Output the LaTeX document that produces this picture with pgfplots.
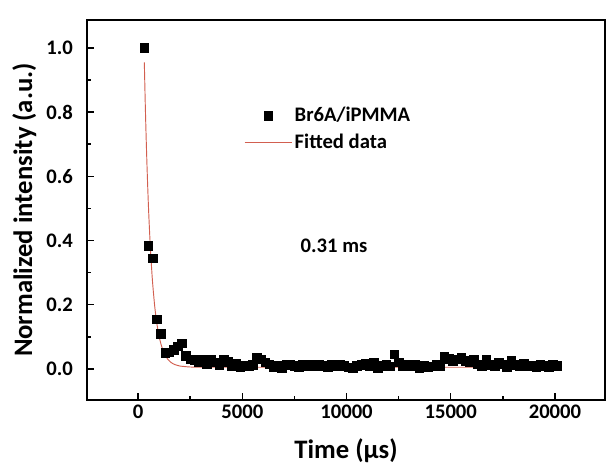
\documentclass[border=0pt]{standalone}
\usepackage{fontspec}
\setmainfont{Carlito}
\usepackage{pgfplots}
\pgfplotsset{compat=1.18}
\definecolor{fitred}{RGB}{210,95,80}
\pgfplotsset{
  markleg/.style={legend image code/.code={\draw[##1] plot coordinates {(0.62cm,0cm)};}},
  lineleg/.style={legend image code/.code={\draw[##1] (0cm,0cm) -- (1.24cm,0cm);}},
}
\begin{document}
\begin{tikzpicture}
\begin{axis}[
  at={(0,0)}, anchor=south west,
  scale only axis, width=388.5pt, height=285pt,
  xmin=-2450, xmax=22400, ymin=-0.097, ymax=1.087,
  axis line style={line width=1.3pt},
  every tick/.style={black, line width=1.1pt},
  tick align=inside,
  xtick pos=bottom, ytick pos=left,
  major tick length=5pt, minor tick length=3pt,
  xtick={0,5000,10000,15000,20000},
  ytick={0,0.2,0.4,0.6,0.8,1.0},
  minor x tick num=1, minor y tick num=1,
  scaled x ticks=false,
  /pgf/number format/assume math mode=true,
  /pgf/number format/1000 sep={},
  yticklabel style={/pgf/number format/fixed, /pgf/number format/fixed zerofill, /pgf/number format/precision=1, xshift=-7pt},
  ticklabel style={font=\fontsize{15.5}{18}\selectfont\bfseries},
  xlabel={Time (μs)},
  ylabel={Normalized intensity (a.u.)},
  label style={font=\fontsize{20}{24}\selectfont\bfseries},
  xlabel style={at={(axis description cs:0.5,-0.134)}, anchor=center},
  ylabel style={at={(axis description cs:-0.121,0.5)}, anchor=center},
  legend style={draw=none, fill=none, font=\fontsize{15.5}{18}\selectfont\bfseries,
    at={(axis description cs:0.295,0.785)}, anchor=north west,
    row sep=4pt},
  legend cell align=left,
]
\addplot[only marks, mark=square*, mark size=3.2pt, black, markleg]
coordinates {
(300,1.000) (500,0.384) (700,0.345) (900,0.155) (1100,0.110) (1300,0.050)
(1500,0.052) (1700,0.060) (1900,0.070) (2100,0.080) (2300,0.040) (2500,0.030)
(2700,0.028) (2900,0.022) (3100,0.030) (3300,0.015) (3500,0.028) (3700,0.020)
(3900,0.012) (4100,0.030) (4300,0.022) (4500,0.010) (4700,0.018) (4900,0.005)
(5100,0.010) (5300,0.008) (5500,0.012) (5700,0.035) (5900,0.030) (6100,0.020)
(6300,0.015) (6500,0.005) (6700,0.010) (6900,0.002) (7100,0.015) (7300,0.012)
(7500,0.010) (7700,0.005) (7900,0.015) (8100,0.010) (8300,0.012) (8500,0.008)
(8700,0.015) (8900,0.010) (9100,0.005) (9300,0.012) (9500,0.008) (9700,0.015)
(9900,0.010) (10100,0.005) (10300,0.003) (10500,0.010) (10700,0.012) (10900,0.018)
(11100,0.008) (11300,0.020) (11500,0.003) (11700,0.010) (11900,0.015) (12100,0.008)
(12300,0.045) (12500,0.020) (12700,0.010) (12900,0.015) (13100,0.008) (13300,0.012)
(13500,0.003) (13700,0.010) (13900,0.005) (14100,0.008) (14300,0.012) (14500,0.008)
(14700,0.038) (14900,0.032) (15100,0.025) (15300,0.030) (15500,0.035) (15700,0.025)
(15900,0.020) (16100,0.030) (16300,0.015) (16500,0.010) (16700,0.028) (16900,0.012)
(17100,0.010) (17300,0.020) (17500,0.015) (17700,0.005) (17900,0.025) (18100,0.012)
(18300,0.010) (18500,0.018) (18700,0.008) (18900,0.010) (19100,0.005) (19300,0.012)
(19500,0.010) (19700,0.005) (19900,0.012) (20100,0.010)
};
\addlegendentry{Br6A/iPMMA}
\addplot[fitred, line width=0.7pt, smooth, lineleg]
coordinates {
(300,0.955) (350,0.813) (400,0.693) (450,0.591) (500,0.503) (550,0.430)
(600,0.366) (650,0.313) (700,0.266) (800,0.194) (900,0.142) (1000,0.104)
(1100,0.077) (1200,0.057) (1300,0.043) (1400,0.032) (1600,0.019) (1800,0.0125)
(2000,0.0089) (2500,0.0058) (3000,0.0052) (4000,0.005) (6000,0.005) (10000,0.005)
(15000,0.005) (20000,0.005)
};
\addlegendentry{Fitted data}
\node[font=\fontsize{15.5}{18}\selectfont\bfseries] at (axis cs:9400,0.383) {0.31 ms};
\end{axis}
\path[use as bounding box] (-65.25pt,-48.75pt) rectangle (390.75pt,300pt);
\end{tikzpicture}
\end{document}
